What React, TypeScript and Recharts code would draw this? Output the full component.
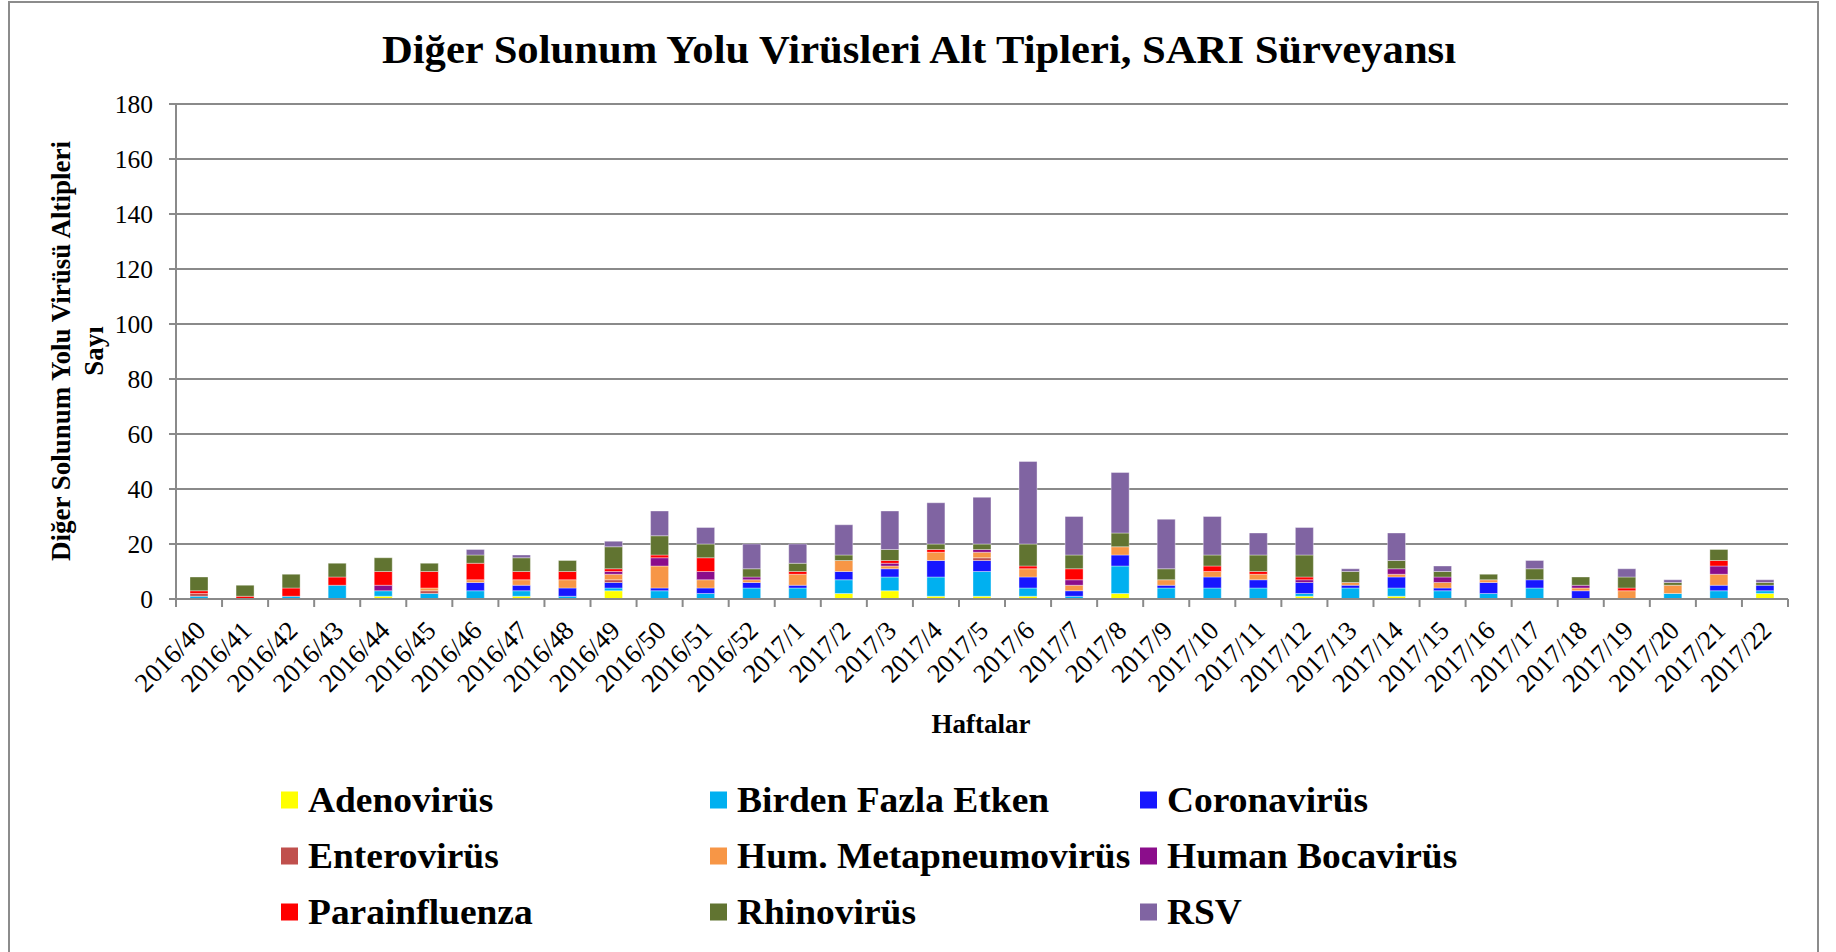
import React from 'react';
import { BarChart, Bar, XAxis, YAxis, CartesianGrid } from 'recharts';

// weeks on the x axis
const weeks = [
  '2016/40', '2016/41', '2016/42', '2016/43', '2016/44', '2016/45', '2016/46', '2016/47', '2016/48',
  '2016/49', '2016/50', '2016/51', '2016/52', '2017/1', '2017/2', '2017/3', '2017/4', '2017/5',
  '2017/6', '2017/7', '2017/8', '2017/9', '2017/10', '2017/11', '2017/12', '2017/13', '2017/14',
  '2017/15', '2017/16', '2017/17', '2017/18', '2017/19', '2017/20', '2017/21', '2017/22',
];

// counts per virus, stacked bottom to top
const adeno = [0, 0, 0, 0, 1, 0, 0, 1, 0, 3, 0, 0, 0, 0, 2, 3, 1, 1, 1, 0, 2, 0, 0, 0, 1, 0, 1, 0, 0, 0, 0, 0, 0, 0, 2];
const birden = [1, 0, 1, 5, 2, 2, 3, 2, 1, 1, 3, 2, 4, 4, 5, 5, 7, 9, 3, 1, 10, 4, 4, 4, 1, 4, 3, 3, 2, 4, 0, 0, 2, 3, 1];
const corona = [0, 0, 0, 0, 0, 0, 3, 2, 3, 2, 1, 2, 2, 1, 3, 3, 6, 4, 4, 2, 4, 1, 4, 3, 4, 1, 4, 1, 4, 3, 3, 0, 0, 2, 2];
const entero = [1, 0, 0, 0, 0, 1, 0, 0, 0, 1, 0, 0, 0, 0, 0, 0, 0, 1, 0, 0, 0, 0, 0, 0, 0, 0, 0, 0, 0, 0, 0, 0, 0, 0, 0];
const metapneumo = [0, 0, 0, 0, 0, 1, 1, 2, 3, 2, 8, 3, 1, 4, 4, 1, 3, 2, 3, 2, 3, 2, 2, 2, 0, 1, 1, 2, 1, 0, 1, 3, 3, 4, 0];
const boca = [0, 0, 0, 0, 2, 0, 0, 0, 0, 1, 3, 3, 1, 0, 0, 1, 0, 1, 0, 2, 0, 0, 0, 0, 1, 0, 2, 2, 0, 0, 1, 0, 0, 3, 0];
const parainf = [1, 1, 3, 3, 5, 6, 6, 3, 3, 1, 1, 5, 0, 1, 0, 1, 1, 0, 1, 4, 0, 0, 2, 1, 1, 0, 0, 0, 0, 0, 0, 1, 0, 2, 0];
const rhino = [5, 4, 5, 5, 5, 3, 3, 5, 4, 8, 7, 5, 3, 3, 2, 4, 2, 2, 8, 5, 5, 4, 4, 6, 8, 4, 3, 2, 2, 4, 3, 4, 1, 4, 1];
const rsv = [0, 0, 0, 0, 0, 0, 2, 1, 0, 2, 9, 6, 9, 7, 11, 14, 15, 17, 30, 14, 22, 18, 14, 8, 10, 1, 10, 2, 0, 3, 0, 3, 1, 0, 1];

const yTicks = [0, 20, 40, 60, 80, 100, 120, 140, 160, 180];

const series = [
  { key: 'adeno', name: 'Adenovirüs', color: '#FFFF00', values: adeno },
  { key: 'birden', name: 'Birden Fazla Etken', color: '#00B0F0', values: birden },
  { key: 'corona', name: 'Coronavirüs', color: '#1616FF', values: corona },
  { key: 'entero', name: 'Enterovirüs', color: '#C0504D', values: entero },
  { key: 'metapneumo', name: 'Hum. Metapneumovirüs', color: '#F79646', values: metapneumo },
  { key: 'boca', name: 'Human Bocavirüs', color: '#8B0D8B', values: boca },
  { key: 'parainf', name: 'Parainfluenza', color: '#FF0000', values: parainf },
  { key: 'rhino', name: 'Rhinovirüs', color: '#617431', values: rhino },
  { key: 'rsv', name: 'RSV', color: '#8064A2', values: rsv },
];

const data = weeks.map((w, i) => {
  const row: Record<string, string | number> = { week: w };
  series.forEach((s) => { row[s.key] = s.values[i]; });
  return row;
});

const FONT = '"Liberation Serif", "Times New Roman", serif';
const GRID = '#8a8a8a';
const PLOT_LEFT = 176;
const PLOT_RIGHT = 1788;
const BAND = (PLOT_RIGHT - PLOT_LEFT) / weeks.length;

// legend in three columns
const legendCols = [281, 710, 1140];
const legendRows = [800, 856, 912];

const XTick = (props: any) => {
  const { x, y, payload, index } = props;
  const half = BAND / 2;
  return (
    <g>
      <line x1={x - half} x2={x - half} y1={y} y2={y + 8} stroke={GRID} strokeWidth={2} />
      {index === weeks.length - 1 && (
        <line x1={x + half} x2={x + half} y1={y} y2={y + 8} stroke={GRID} strokeWidth={2} />
      )}
      <text
        x={0}
        y={0}
        transform={`translate(${x + 8},${y + 33}) rotate(-45)`}
        textAnchor="end"
        fontFamily={FONT}
        fontSize={26.5}
        fill="#000"
      >
        {payload.value}
      </text>
    </g>
  );
};

const boldText = (size: number) => ({
  fontFamily: FONT, fontWeight: 'bold' as const, fontSize: size, whiteSpace: 'nowrap' as const, color: '#000',
});

export default function App() {
  return (
    <div style={{ position: 'relative', width: 1836, height: 952, background: '#fff', overflow: 'hidden' }}>
      <style>{'body{margin:0}'}</style>
      <div
        style={{
          position: 'absolute', left: 8, top: 1, width: 1807, height: 980,
          borderLeft: '2px solid #8c8c8c', borderRight: '2px solid #8c8c8c', borderTop: '2px solid #8c8c8c',
        }}
      />
      <div
        style={{
          position: 'absolute', left: 919, top: 49, transform: 'translate(-50%, -50%) scaleX(1.04)',
          ...boldText(41),
        }}
      >
        Diğer Solunum Yolu Virüsleri Alt Tipleri, SARI Sürveyansı
      </div>

      <div style={{ position: 'absolute', left: 0, top: 0 }}>
        <BarChart
          width={1836}
          height={760}
          data={data}
          margin={{ top: 104, right: 1836 - PLOT_RIGHT, left: 0, bottom: 61 }}
          barSize={18}
        >
          <CartesianGrid vertical={false} stroke={GRID} strokeWidth={2} />
          <XAxis
            dataKey="week"
            height={100}
            interval={0}
            tick={<XTick />}
            tickLine={false}
            tickSize={0}
            tickMargin={0}
            axisLine={{ stroke: GRID, strokeWidth: 2 }}
          />
          <YAxis
            width={PLOT_LEFT}
            domain={[0, 180]}
            ticks={yTicks}
            interval={0}
            tickSize={7}
            tickMargin={16}
            tickLine={{ stroke: GRID, strokeWidth: 2 }}
            axisLine={{ stroke: GRID, strokeWidth: 2 }}
            tick={{ fontFamily: FONT, fontSize: 25.5, fill: '#000' }}
          />
          {series.map((s) => (
            <Bar
              key={s.key}
              dataKey={s.key}
              name={s.name}
              stackId="a"
              fill={s.color}
              stroke="#ffffff"
              strokeOpacity={0.45}
              strokeWidth={0.8}
              isAnimationActive={false}
            />
          ))}
        </BarChart>
      </div>

      <div
        style={{
          position: 'absolute', left: 61, top: 351, transform: 'translate(-50%, -50%) rotate(-90deg)',
          ...boldText(27),
        }}
      >
        Diğer Solunum Yolu Virüsü Altipleri
      </div>
      <div
        style={{
          position: 'absolute', left: 94, top: 351, transform: 'translate(-50%, -50%) rotate(-90deg)',
          ...boldText(27),
        }}
      >
        Sayı
      </div>
      <div
        style={{
          position: 'absolute', left: 981, top: 724, transform: 'translate(-50%, -50%)',
          ...boldText(27),
        }}
      >
        Haftalar
      </div>

      {series.map((s, i) => {
        const col = i % 3;
        const row = Math.floor(i / 3);
        return (
          <div
            key={s.key}
            style={{
              position: 'absolute', left: legendCols[col], top: legendRows[row], transform: 'translateY(-50%)',
              display: 'flex', alignItems: 'center', whiteSpace: 'nowrap',
            }}
          >
            <span style={{ display: 'inline-block', width: 17, height: 17, background: s.color, marginRight: 10 }} />
            <span
              style={{
                ...boldText(35), lineHeight: 1, display: 'inline-block',
                transform: 'scaleX(1.07)', transformOrigin: 'left center',
              }}
            >
              {s.name}
            </span>
          </div>
        );
      })}
    </div>
  );
}
